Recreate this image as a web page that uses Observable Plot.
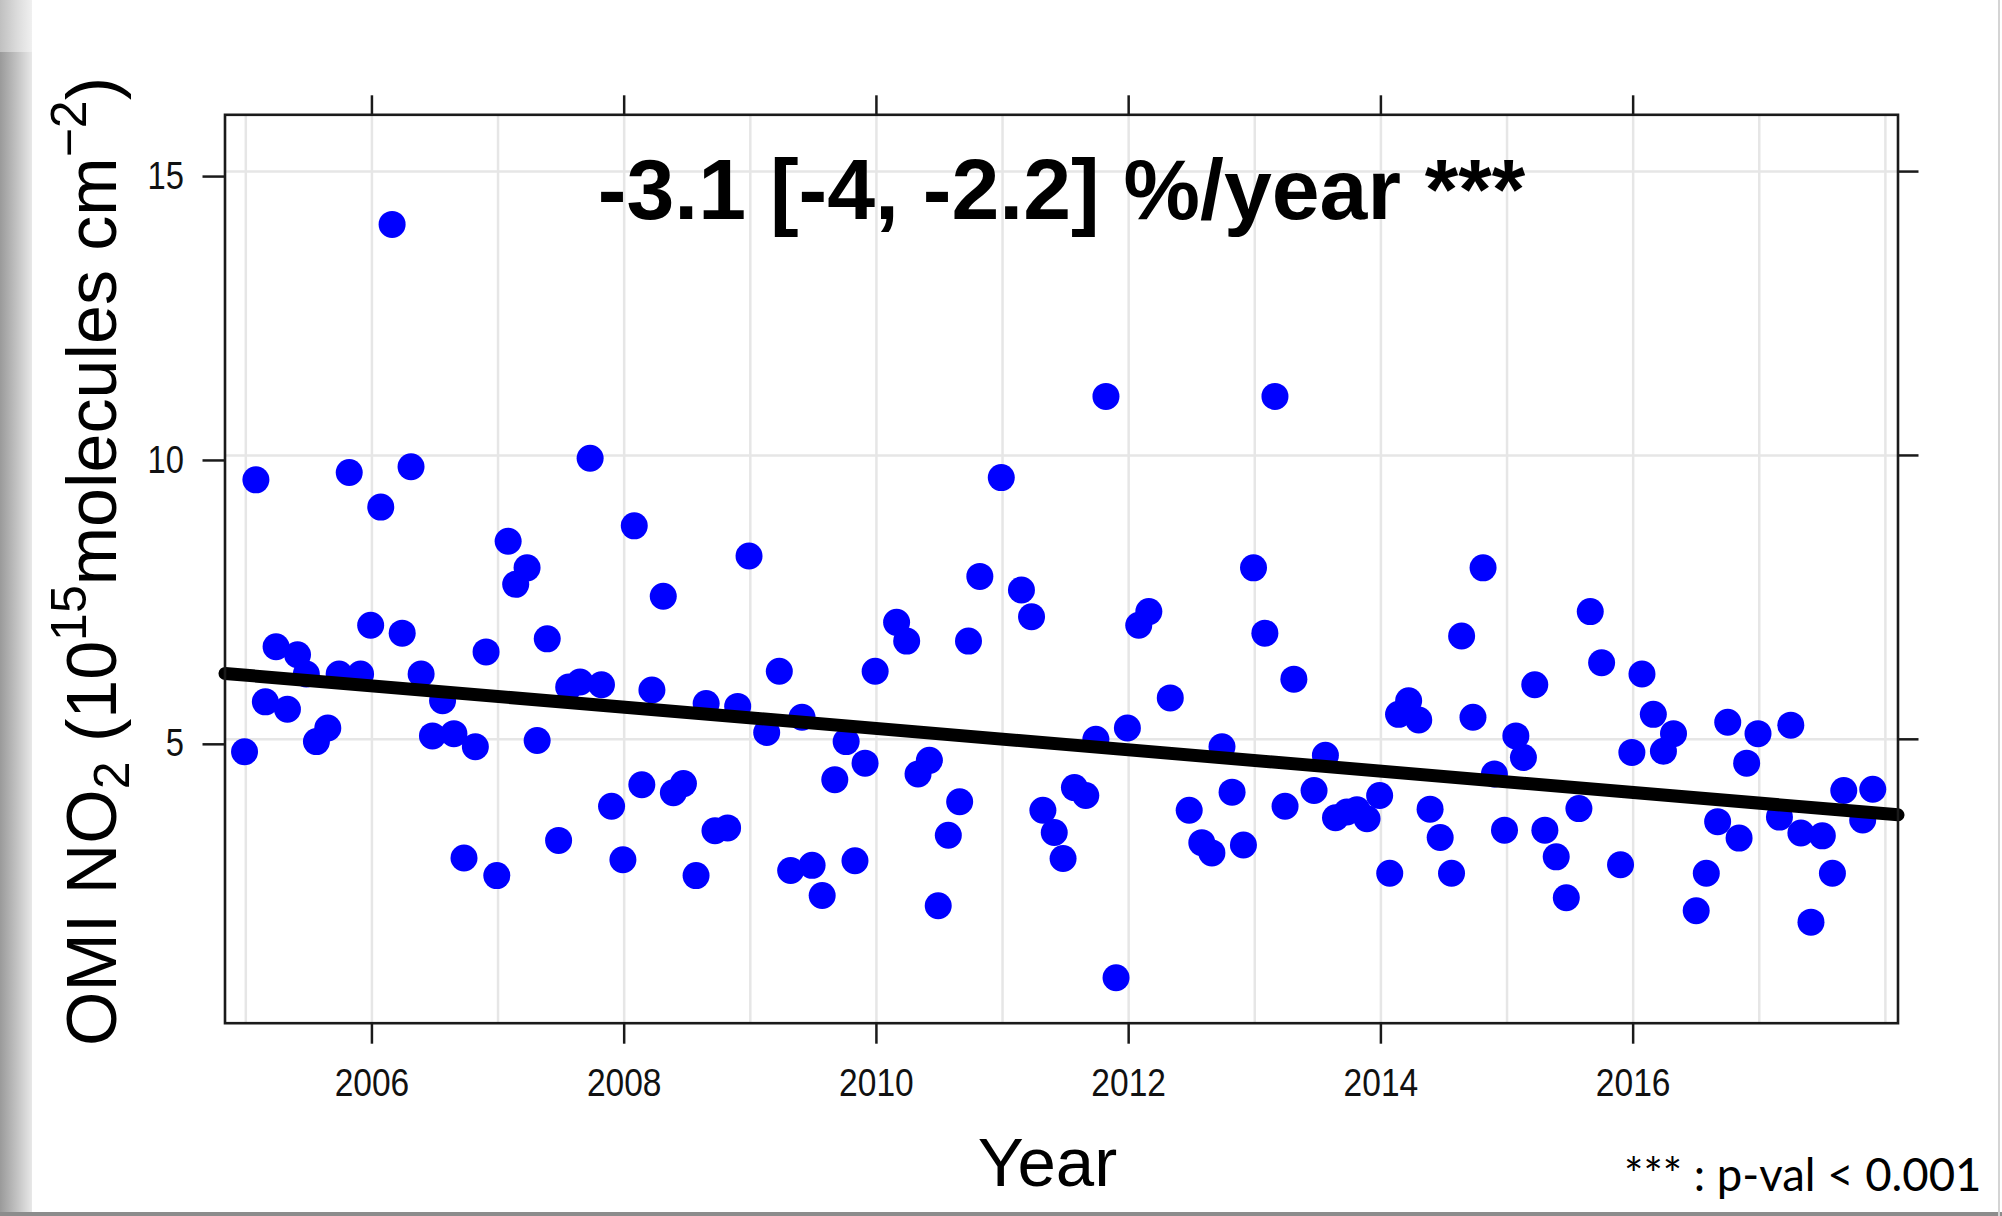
<!DOCTYPE html>
<html><head><meta charset="utf-8">
<script src="https://cdn.jsdelivr.net/npm/d3@7"></script>
<script src="https://cdn.jsdelivr.net/npm/@observablehq/plot@0.6"></script>
<style>
html,body{margin:0;padding:0;background:#fff;}
#wrap{position:relative;width:2002px;height:1216px;overflow:hidden;background:#fff;}
#stripe{position:absolute;left:0;top:0;width:32px;height:1216px;background:linear-gradient(to right,#9a9a9a,#c4c4c4 55%,#e8e8e8);}
#stripeTop{position:absolute;left:0;top:0;width:32px;height:52px;background:linear-gradient(to right,#c0c0c0,#dcdcdc 55%,#f0f0f0);}
#bottomBar{position:absolute;left:0;bottom:0;width:2002px;height:4px;background:#8c8c8c;}
#rightLine{position:absolute;right:2px;top:0;width:2px;height:1216px;background:#d4d4d4;}
#chart{position:absolute;left:0;top:0;}
</style></head><body><div id="wrap"><div id="stripe"></div><div id="stripeTop"></div><div id="bottomBar"></div><div id="rightLine"></div><div id="chart"></div></div>
<script>
// ---- data ----
const years = [
  2004.99,2005.08,2005.155,2005.24,2005.33,2005.41,2005.48,2005.56,2005.65,2005.74,2005.82,2005.91,
  2005.99,2006.07,2006.16,2006.24,2006.31,2006.39,2006.48,2006.56,2006.65,2006.73,2006.82,2006.905,
  2006.99,2007.08,2007.14,2007.23,2007.31,2007.39,2007.48,2007.56,2007.65,2007.73,2007.82,2007.90,
  2007.99,2008.08,2008.14,2008.22,2008.31,2008.39,2008.47,2008.57,2008.65,2008.72,2008.82,2008.90,
  2008.99,2009.13,2009.23,2009.32,2009.41,2009.49,2009.57,2009.67,2009.76,2009.83,2009.91,
  2009.99,2010.16,2010.24,2010.33,2010.42,2010.49,2010.57,2010.66,2010.73,2010.82,2010.99,
  2011.15,2011.23,2011.32,2011.41,2011.48,2011.57,2011.66,2011.74,2011.82,2011.90,2011.99,
  2012.08,2012.16,2012.33,2012.48,2012.58,2012.66,2012.74,2012.82,2012.91,2012.99,
  2013.08,2013.16,2013.24,2013.31,2013.47,2013.56,2013.64,2013.73,2013.81,2013.89,2013.99,
  2014.07,2014.14,2014.22,2014.30,2014.39,2014.47,2014.56,2014.64,2014.73,2014.81,2014.90,2014.98,
  2015.07,2015.13,2015.22,2015.30,2015.39,2015.47,2015.57,2015.66,2015.75,2015.90,2015.99,
  2016.07,2016.16,2016.24,2016.32,2016.50,2016.58,2016.67,2016.75,2016.84,2016.90,2016.99,
  2017.16,2017.25,2017.33,2017.41,2017.50,2017.58,2017.67,2017.82,2017.90
];
const no2 = [
  4.78,9.57,5.66,6.63,5.53,6.49,6.15,4.96,5.2,6.15,9.70,6.15,
  7.01,9.09,14.07,6.87,9.8,6.15,5.06,5.68,5.1,2.91,4.87,6.54,
  2.6,8.49,7.73,8.02,4.98,6.77,3.22,5.92,6.01,9.95,5.96,3.82,
  2.88,8.76,4.2,5.87,7.52,4.06,4.22,2.6,5.63,3.39,3.44,5.58,
  8.23,5.12,6.2,2.69,5.39,2.78,2.25,4.29,4.96,2.86,4.58,
  6.2,7.06,6.73,4.39,4.63,2.07,3.31,3.9,6.73,7.87,9.61,
  7.63,7.16,3.75,3.36,2.9,4.15,4.01,5.0,11.04,0.8,5.2,
  7.01,7.25,5.73,3.75,3.18,3.0,4.87,4.07,3.14,8.02,
  6.87,11.04,3.82,6.06,4.1,4.72,3.62,3.72,3.76,3.6,4.01,
  2.64,5.44,5.68,5.34,3.77,3.27,2.64,6.82,5.39,8.02,4.39,3.4,
  5.06,4.68,5.96,3.4,2.93,2.21,3.78,7.25,6.35,2.79,4.77,
  6.15,5.44,4.79,5.1,1.98,2.64,3.55,5.3,3.26,4.58,5.1,
  3.63,5.25,3.35,1.78,3.3,2.64,4.1,3.58,4.12
];
const trendYears = [2004.835, 2018.1];
const trendValues = [6.16, 3.67];
const xTicks = [2006, 2008, 2010, 2012, 2014, 2016];
const yTicks = [5, 10, 15];
const gridYears = [2005,2006,2007,2008,2009,2010,2011,2012,2013,2014,2015,2016,2017,2018];
const titleText = "-3.1 [-4, -2.2] %/year ***";
const footnote = "*** : p-val < 0.001";
const xLabel = "Year";

const points = years.map((x, i) => ({x, y: no2[i]}));
const trend = trendYears.map((x, i) => ({x, y: trendValues[i]}));

const sans = "'Liberation Sans', Arial, sans-serif";

function yLabel(index, scales, values, dimensions) {
  const {marginTop, marginBottom, height} = dimensions;
  const cy = (marginTop + height - marginBottom) / 2 - 7;
  const g = d3.create("svg:g");
  const t = g.append("text")
    .attr("transform", `translate(116,${cy}) rotate(-90)`)
    .attr("text-anchor", "middle")
    .attr("font-family", sans)
    .attr("font-size", 70)
    .attr("fill", "#000");
  t.append("tspan").text("OMI NO");
  t.append("tspan").attr("font-size", 50).attr("dy", 13).text("2");
  t.append("tspan").attr("dy", -13).text(" (10");
  t.append("tspan").attr("font-size", 50).attr("dy", -30).text("15");
  t.append("tspan").attr("dy", 30).text("molecules cm");
  t.append("tspan").attr("font-size", 50).attr("dy", -30).text("\u22122");
  t.append("tspan").attr("dy", 30).text(")");
  return g.node();
}

const plot = Plot.plot({
  width: 2002, height: 1216,
  marginLeft: 224.5, marginRight: 104.5, marginTop: 114.3, marginBottom: 193.3,
  style: {fontFamily: sans, background: "transparent", overflow: "visible", color: "#000"},
  x: {type: "linear", domain: [2004.835, 2018.1]},
  y: {type: "linear", domain: [0, 16]},
  marks: [
    Plot.gridX(gridYears, {stroke: "#e6e6e6", strokeOpacity: 1, strokeWidth: 2.5}),
    Plot.gridY(yTicks, {stroke: "#e6e6e6", strokeOpacity: 1, strokeWidth: 2.5}),
    Plot.dot(points, {x: "x", y: "y", r: 13.5, fill: "#0000ff", stroke: "none"}),
    Plot.line(trend, {x: "x", y: "y", stroke: "#000", strokeWidth: 13}),
    Plot.frame({stroke: "#1a1a1a", strokeWidth: 2.6}),
    Plot.axisX(xTicks, {anchor: "bottom", tickSize: 21, tickPadding: 24, tickFormat: d => String(d), fontSize: 39, label: null, stroke: "#1a1a1a", strokeWidth: 2.5, fill: "#111"}),
    Plot.axisX(xTicks, {anchor: "top", tickSize: 20, tickFormat: () => "", label: null, stroke: "#1a1a1a", strokeWidth: 2.5}),
    Plot.axisY(yTicks, {anchor: "left", tickSize: 22, tickPadding: 19, dy: 5, tickFormat: d => String(d), fontSize: 38, label: null, stroke: "#1a1a1a", strokeWidth: 2.5, fill: "#111"}),
    Plot.axisY(yTicks, {anchor: "right", tickSize: 20, tickFormat: () => "", label: null, stroke: "#1a1a1a", strokeWidth: 2.5}),
    Plot.text([titleText], {frameAnchor: "top", lineAnchor: "bottom", dy: 103.7, fontSize: 86, fontWeight: "bold", fill: "#000", fontFamily: sans}),
    Plot.text([xLabel], {frameAnchor: "bottom", lineAnchor: "bottom", dy: 162.3, dx: -14, fontSize: 69, fill: "#000", fontFamily: sans}),
    Plot.text([footnote], {frameAnchor: "bottom-right", textAnchor: "end", lineAnchor: "bottom", dx: 83.5, dy: 167.3, fontSize: 45.5, fill: "#000", fontFamily: "Lato, 'Liberation Sans', sans-serif"}),
    yLabel
  ]
});
document.getElementById("chart").appendChild(plot);

// condensed look of the tick labels (narrow font in the original)
d3.select(plot).selectAll("g[aria-label$='tick label'] text").each(function () {
  const w = this.getComputedTextLength();
  if (w > 0) {
    this.setAttribute("textLength", (w * 0.86).toFixed(1));
    this.setAttribute("lengthAdjust", "spacingAndGlyphs");
  }
});
</script>
</body></html>
